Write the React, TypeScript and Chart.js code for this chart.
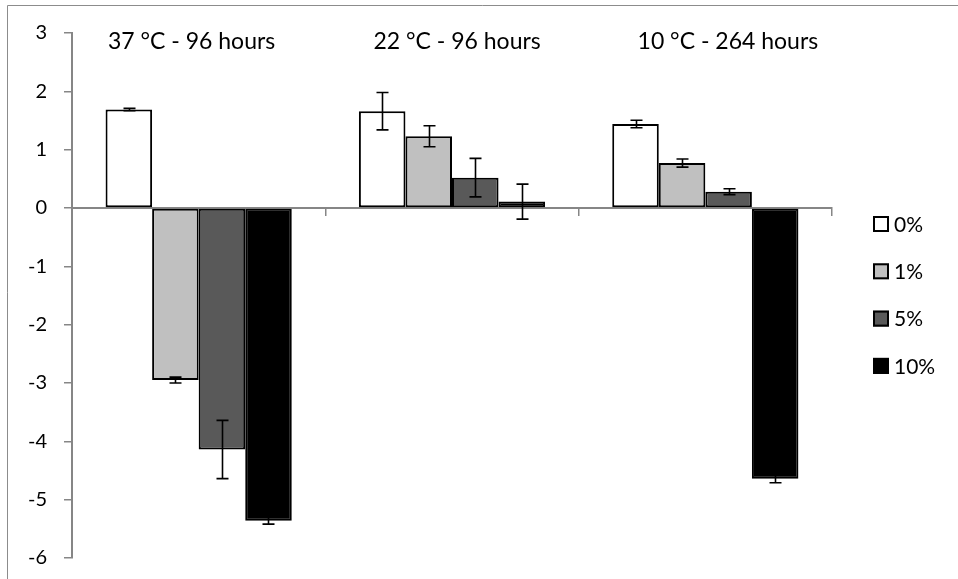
import React, { useEffect, useRef } from "react";
import { Chart, registerables } from "chart.js";

Chart.register(...registerables);

const categories = ["37 °C - 96 hours", "22 °C - 96 hours", "10 °C - 264 hours"];
const seriesLabels = ["0%", "1%", "5%", "10%"];
const seriesColors = ["#FFFFFF", "#C0C0C0", "#595959", "#000000"];

const values0 = [1.69, 1.66, 1.44];
const values1 = [-2.95, 1.23, 0.77];
const values5 = [-4.14, 0.52, 0.28];
const values10 = [-5.36, 0.11, -4.64];

const err0 = [0.02, 0.32, 0.065];
const err1 = [0.05, 0.18, 0.07];
const err5 = [0.5, 0.33, 0.05];
const err10 = [0.06, 0.3, 0.07];

const yTicks = [3, 2, 1, 0, -1, -2, -3, -4, -5, -6];

// annotation anchors (category index offset, y value)
const titleOffsets = [-0.028, 0.02, 0.089];
const titleY = 2.85;

const FONT = "Lato, 'Open Sans', sans-serif";
const AXIS_GRAY = "#868686";

export default function App() {
  const ref = useRef<HTMLCanvasElement | null>(null);

  useEffect(() => {
    document.body.style.margin = "0";
    const canvas = ref.current;
    if (!canvas) return;
    const allValues = [values0, values1, values5, values10];
    const allErrs = [err0, err1, err5, err10];

    const errorBars = {
      id: "errorBars",
      afterDatasetsDraw(chart: any) {
        const ctx = chart.ctx;
        const ys = chart.scales.y;
        ctx.save();
        ctx.strokeStyle = "#000";
        ctx.lineWidth = 1.6;
        allValues.forEach((vals, i) => {
          const meta = chart.getDatasetMeta(i);
          meta.data.forEach((el: any, j: number) => {
            const v = vals[j];
            const e = allErrs[i][j];
            const x = Math.round(el.x) + 0.5;
            const yt = ys.getPixelForValue(v + e);
            const yb = ys.getPixelForValue(v - e);
            ctx.beginPath();
            ctx.moveTo(x, yt);
            ctx.lineTo(x, yb);
            ctx.moveTo(x - 6, yt);
            ctx.lineTo(x + 6, yt);
            ctx.moveTo(x - 6, yb);
            ctx.lineTo(x + 6, yb);
            ctx.stroke();
          });
        });
        ctx.restore();
      },
    };

    const decorations = {
      id: "decorations",
      beforeDraw(chart: any) {
        const ctx = chart.ctx;
        ctx.save();
        ctx.fillStyle = "#fff";
        ctx.fillRect(0, 0, chart.width, chart.height);
        ctx.strokeStyle = "#8c8c8c";
        ctx.lineWidth = 1;
        ctx.beginPath();
        ctx.moveTo(7.5, chart.height);
        ctx.lineTo(7.5, 5.5);
        ctx.lineTo(chart.width, 5.5);
        ctx.stroke();
        ctx.restore();
      },
      afterDraw(chart: any) {
        const ctx = chart.ctx;
        const xs = chart.scales.x;
        const ys = chart.scales.y;
        const area = chart.chartArea;
        ctx.save();
        // group titles
        ctx.fillStyle = "#000";
        ctx.font = `23px ${FONT}`;
        ctx.textAlign = "center";
        ctx.textBaseline = "middle";
        const catW = (area.right - area.left) / categories.length;
        categories.forEach((c, i) => {
          const x = xs.getPixelForValue(i) + titleOffsets[i] * catW;
          ctx.fillText(c, x, ys.getPixelForValue(titleY));
        });
        // legend
        const lx = area.right + 41;
        const startY = 224;
        const gap = 47.3;
        ctx.font = `21px ${FONT}`;
        ctx.textAlign = "left";
        seriesLabels.forEach((lab, i) => {
          const cy = startY + i * gap;
          ctx.fillStyle = seriesColors[i];
          ctx.fillRect(lx, cy - 8, 16, 16);
          ctx.strokeStyle = "#000";
          ctx.lineWidth = 2;
          ctx.strokeRect(lx + 1, cy - 7, 14, 14);
          ctx.fillStyle = "#000";
          ctx.fillText(lab, lx + 21, cy + 1);
        });
        ctx.restore();
      },
    };

    const chart = new Chart(canvas, {
      type: "bar",
      data: {
        labels: categories,
        datasets: seriesLabels.map((lab, i) => ({
          label: lab,
          data: allValues[i],
          backgroundColor: seriesColors[i],
          borderColor: "#000",
          borderWidth: 2,
          borderSkipped: false,
          categoryPercentage: 0.735,
          barPercentage: 1,
        })),
      },
      options: {
        responsive: false,
        animation: false,
        devicePixelRatio: 1,
        layout: { padding: { left: 0, right: 126, top: 33, bottom: 21 } },
        plugins: {
          legend: { display: false },
          tooltip: { enabled: false },
          title: { display: false },
        },
        scales: {
          x: {
            position: { y: 0 } as any,
            offset: true,
            afterFit(scale: any) {
              scale.height = 0;
            },
            ticks: { display: false },
            grid: {
              display: true,
              drawOnChartArea: false,
              drawTicks: true,
              tickLength: 7,
              offset: true,
              color: AXIS_GRAY,
              lineWidth: 1.5,
            },
            border: { display: true, color: AXIS_GRAY, width: 2 },
          },
          y: {
            min: -6,
            max: 3,
            afterBuildTicks(scale: any) {
              scale.ticks = yTicks.map((v) => ({ value: v }));
            },
            afterFit(scale: any) {
              scale.width = 72;
              scale.paddingTop = 0;
              scale.paddingBottom = 0;
            },
            ticks: {
              color: "#000",
              font: { family: FONT, size: 20 },
              padding: 17,
            },
            grid: {
              display: true,
              drawOnChartArea: false,
              drawTicks: true,
              tickLength: 8,
              color: AXIS_GRAY,
              lineWidth: 1.5,
            },
            border: { display: true, color: AXIS_GRAY, width: 2 },
          },
        },
      },
      plugins: [decorations, errorBars],
    });
    return () => chart.destroy();
  }, []);

  return (
    <div style={{ width: 958, height: 579 }}>
      <canvas ref={ref} width={958} height={579} style={{ width: 958, height: 579, display: "block" }} />
    </div>
  );
}
